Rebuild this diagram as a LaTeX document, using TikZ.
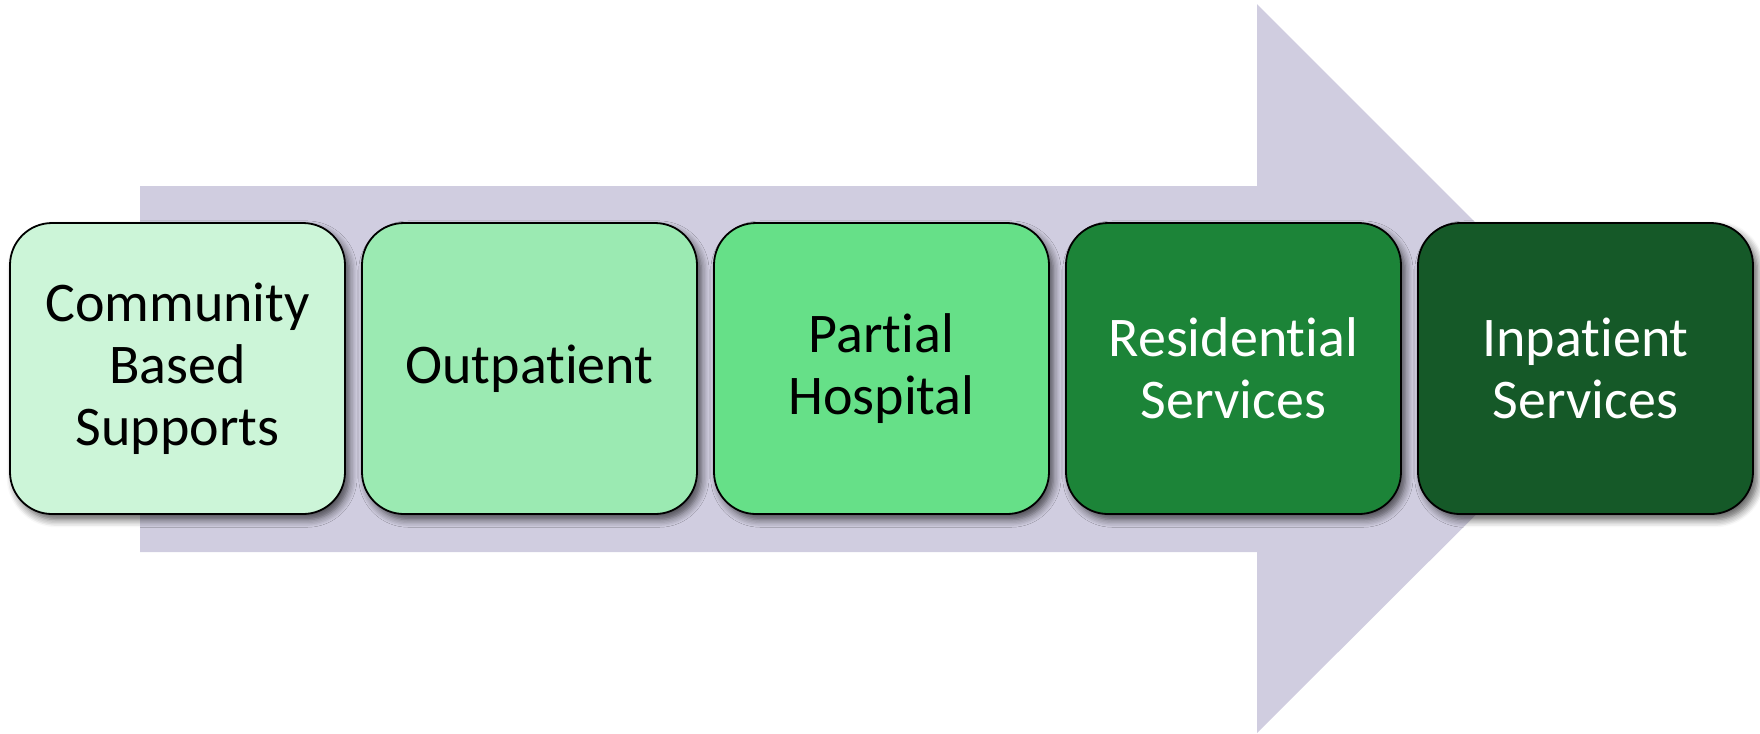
\documentclass[tikz,border=0pt]{standalone}
\usepackage{fontspec}
\setmainfont{Carlito}[RawFeature={-liga,-clig,-calt,-dlig}]
\usepackage{tikz}
\usetikzlibrary{shadows.blur}
\definecolor{arrowcolour}{HTML}{D0CDE0}
\definecolor{commcolour}{HTML}{CCF5D8}
\definecolor{outpcolour}{HTML}{9BEAB2}
\definecolor{partcolour}{HTML}{66E088}
\definecolor{resicolour}{HTML}{1C8438}
\definecolor{inpacolour}{HTML}{155928}
\newcommand\boxwd{.45pt}
\tikzstyle{stage} = [rectangle, draw=black, line width=\boxwd, rounded corners=10.5pt,
  minimum width=83.75pt, minimum height=72.75pt, inner sep=0pt, align=center,
  font=\fontsize{14}{15.5}\selectfont,
  blur shadow={shadow xshift=1.1pt, shadow yshift=-1.4pt, shadow blur steps=6, shadow opacity=65}]

\begin{document}
\begin{tikzpicture}[x=.25pt, y=-.25pt]
  \useasboundingbox (0, 0) rectangle (1760, 733);
  % big arrow behind the stages
  \fill[arrowcolour] (140, 186) -- (1257, 186) -- (1257, 4) -- (1622, 369)
    -- (1257, 733) -- (1257, 552) -- (140, 552) -- cycle;
  \draw (177.5, 368.5) node[stage, fill=commcolour] (comm) {Community\\Based\\Supports};
  \draw (529.5, 368.5) node[stage, fill=outpcolour] (outp) {Outpatient};
  \draw (881.5, 368.5) node[stage, fill=partcolour] (part) {Partial\\Hospital};
  \draw (1233.5, 368.5) node[stage, fill=resicolour, text=white] (resi) {Residential\\Services};
  \draw (1585.5, 368.5) node[stage, fill=inpacolour, text=white] (inpa) {Inpatient\\Services};
\end{tikzpicture}
\end{document}
